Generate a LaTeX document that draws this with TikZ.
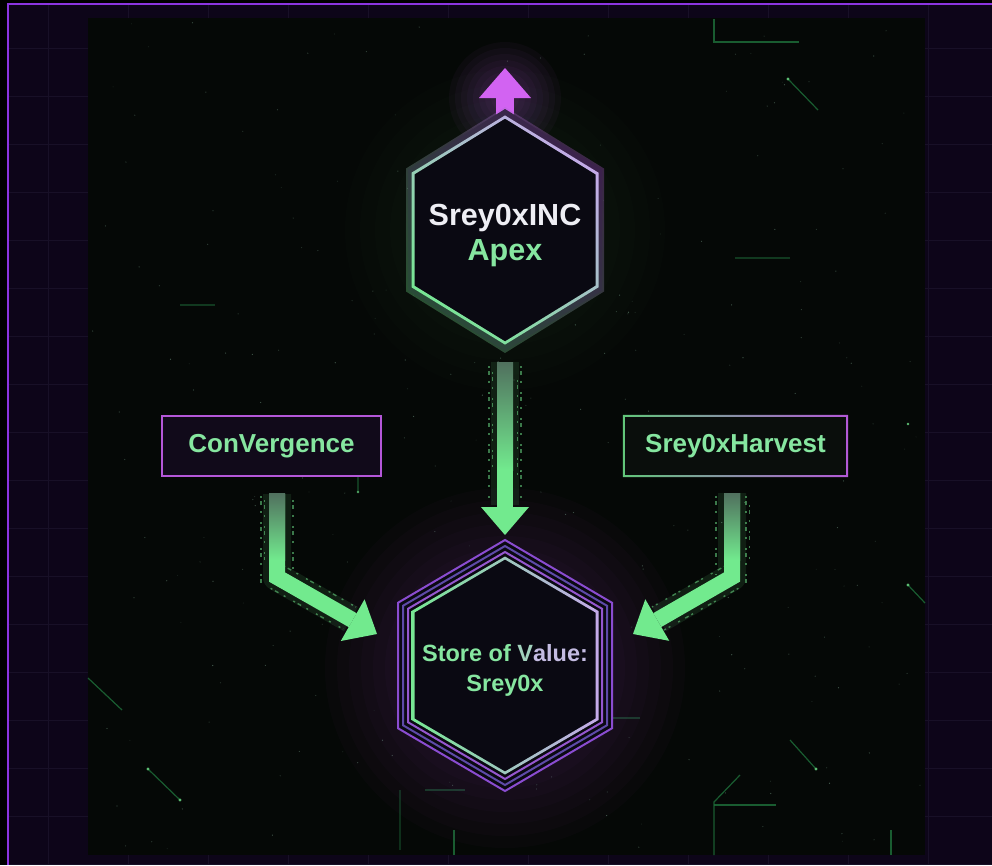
\documentclass[tikz,border=0pt]{standalone}
\usepackage{fontspec}
\setmainfont{Liberation Sans}
\usetikzlibrary{arrows.meta,calc}
\definecolor{outerbg}{HTML}{0D0519}
\definecolor{gridcol}{HTML}{181027}
\definecolor{framecol}{HTML}{8B35E0}
\definecolor{panel}{HTML}{050806}
\definecolor{hexfill}{HTML}{0A0912}
\definecolor{neongreen}{HTML}{72EA8E}
\definecolor{textgreen}{HTML}{86E6A0}
\definecolor{lavender}{HTML}{C9A6EE}
\definecolor{valuecol}{HTML}{C4BCE2}
\definecolor{paleline}{HTML}{E2ECF0}
\definecolor{apexwhite}{HTML}{EEEEF4}
\definecolor{violet}{HTML}{B457D8}
\definecolor{arrowpurple}{HTML}{D263F2}
\definecolor{dimgreen}{HTML}{50705E}
\definecolor{ringA}{HTML}{8A4CD0}
\definecolor{ringB}{HTML}{5E4AA8}
\definecolor{ringC}{HTML}{A25AD8}
\definecolor{deco}{HTML}{1D6B38}
\definecolor{dotcol}{HTML}{7FA890}
\definecolor{convfill}{HTML}{110A1A}
\definecolor{harvfill}{HTML}{0A0E0C}
\newcommand{\myhex}[4]{({#1},{#2-(#4)}) -- ({#1+(#3)},{#2-(#4)/2}) -- ({#1+(#3)},{#2+(#4)/2}) -- ({#1},{#2+(#4)}) -- ({#1-(#3)},{#2+(#4)/2}) -- ({#1-(#3)},{#2-(#4)/2}) -- cycle}
\begin{document}
\begin{tikzpicture}[x=1pt,y=-1pt,
  anchorbox/.style={inner sep=0pt, outer sep=0pt},
  labeltext/.style={align=center, inner sep=0pt},
  flowarrow/.style={draw=neongreen, line width=16pt, line join=miter, -{Triangle[length=28pt 0 0,width=48pt 0 0,line width=0pt 0 0]}},
  uparrow/.style={draw=arrowpurple, line width=18pt, -{Triangle[length=30pt 0 0,width=52pt 0 0,line width=0pt 0 0]}},
  glowline/.style={draw=neongreen, line width=28pt, opacity=0.10, line join=round, shorten >=30pt},
  rain/.style={draw=neongreen, line width=1.4pt, dash pattern=on 2pt off 3pt on 4pt off 6pt on 2pt off 9pt, opacity=0.5},
  decoline/.style={draw=deco, line width=1.2pt, opacity=0.85},
  boxtext/.style={font=\fontsize{26}{30}\selectfont\bfseries, text=textgreen},
]
\useasboundingbox (0,0) rectangle (992,865);
\fill[black] (0,0) rectangle (992,865);
\fill[outerbg] (8,4) rectangle (992,865);
\foreach \gx in {48,128,...,992} \draw[gridcol, line width=1pt] (\gx,5) -- (\gx,865);
\foreach \gy in {48,96,...,865} \draw[gridcol, line width=1pt] (9,\gy) -- (992,\gy);
\draw[framecol, line width=2pt] (8,865) -- (8,4) -- (992,4);
\fill[panel] (88,18) rectangle (925,855);
% sparkle dots
\pgfmathsetseed{1234}
\foreach \i in {1,...,260}{%
  \pgfmathsetmacro{\px}{90+833*rnd}\pgfmathsetmacro{\py}{20+833*rnd}\pgfmathsetmacro{\po}{0.12+0.45*rnd}%
  \fill[dotcol, opacity=\po] (\px,\py) circle (0.6pt);}
% decorative circuit lines
\draw[decoline] (714,19) -- (714,42) -- (799,42);
\draw[decoline] (788,79) -- (818,110);
\fill[neongreen!80!black] (788,79) circle (1.6pt);
\draw[decoline] (88,678) -- (122,710);
\draw[decoline] (148,769) -- (180,800);
\fill[neongreen!80!black] (148,769) circle (1.6pt) (180,800) circle (1.6pt);
\draw[decoline] (816,769) -- (790,740);
\fill[neongreen!80!black] (816,769) circle (1.6pt);
\draw[decoline] (740,775) -- (714,802) -- (714,855);
\draw[decoline] (714,805) -- (776,805);
\draw[decoline, opacity=0.4] (400,790) -- (400,850);
\draw[decoline, opacity=0.5] (425,790) -- (465,790);
\draw[decoline] (454,830) -- (454,855);
\draw[decoline] (891,830) -- (891,855);
\draw[decoline] (908,585) -- (925,603);
\fill[neongreen!80!black] (908,585) circle (1.6pt) (908,424) circle (1.4pt);
\draw[decoline, opacity=0.5] (358,462) -- (358,492);
\fill[neongreen!70!black] (358,492) circle (1.3pt);
\draw[decoline, opacity=0.5] (180,305) -- (215,305);
\draw[decoline, opacity=0.5] (735,258) -- (790,258);
\draw[decoline, opacity=0.5] (600,718) -- (640,718);
% glows (stacked translucent discs)
\foreach \r in {60,72,...,190} \fill[violet, opacity=0.022] (505,668) circle (\r pt);
\foreach \r in {14,20,...,56} \fill[arrowpurple, opacity=0.035] (505,98) circle (\r pt);
\foreach \r in {100,115,...,160} \fill[neongreen, opacity=0.012] (505,230) circle (\r pt);
% invisible anchor nodes for the hexagons
\node[anchorbox, minimum width=185pt, minimum height=226pt] (apex) at (505,230) {};
\node[anchorbox, minimum width=214pt, minimum height=251pt] (store) at (505,665.5) {};
% purple up arrow
\coordinate (apextip) at ([yshift=49pt]apex.north);
\draw[uparrow] ([yshift=-10pt]apex.north) -- (apextip);
% apex hexagon
\fill[hexfill] \myhex{505}{230}{97}{121};
\begin{scope}[even odd rule]
  \clip \myhex{505}{230}{99}{123} \myhex{505}{230}{93}{114};
  \shade[left color=neongreen, right color=violet, shading angle=135, opacity=0.3] (395,100) rectangle (615,360);
\end{scope}
\begin{scope}[even odd rule]
  \clip \myhex{505}{230}{93.5}{114.6} \myhex{505}{230}{90.5}{111.4};
  \shade[left color=neongreen, middle color=paleline, right color=lavender, shading angle=135] (395,100) rectangle (615,360);
\end{scope}
% store hexagon
\fill[hexfill] \myhex{505}{665.5}{107}{125.5};
\draw[ringA, line width=2pt] \myhex{505}{665.5}{107}{125.5};
\draw[ringB, line width=2pt] \myhex{505}{665.5}{102}{119.5};
\draw[ringC!80!ringB, line width=2pt] \myhex{505}{665.5}{97}{113.5};
\begin{scope}[even odd rule]
  \clip \myhex{505}{665.5}{93.5}{109} \myhex{505}{665.5}{90.5}{106};
  \shade[left color=neongreen, middle color=paleline, right color=lavender] (400,550) rectangle (610,780);
\end{scope}
% labels inside hexagons
\node[labeltext, font=\fontsize{30.5}{35}\selectfont\bfseries, text=apexwhite] (apexlabel) at (505,235.5) {Srey0xINC\\\textcolor{textgreen}{Apex}};
\node[labeltext, font=\fontsize{23.5}{30}\selectfont\bfseries, text=textgreen] (storelabel) at (505,670) {Store of \textcolor{textgreen!55!valuecol}{V}\textcolor{valuecol}{alue:}\\Srey0x};
% side boxes
\node[draw=violet, line width=2pt, fill=convfill, minimum width=219pt, minimum height=60pt, boxtext] (conv) at (271.5,446) {ConVergence};
\node[fill=harvfill, minimum width=223pt, minimum height=60pt, boxtext] (harv) at (735.5,446) {Srey0xHarvest};
\begin{scope}[even odd rule]
  \clip ([shift={(-1pt,-1pt)}]harv.south west) rectangle ([shift={(1pt,1pt)}]harv.north east)
        ([shift={(1pt,1pt)}]harv.south west) rectangle ([shift={(-1pt,-1pt)}]harv.north east);
  \shade[left color=neongreen!85!black, middle color=paleline!60!violet, right color=violet] ([shift={(-3pt,-3pt)}]harv.south west) rectangle ([shift={(3pt,3pt)}]harv.north east);
\end{scope}
% connector coordinates
\coordinate (cbend) at (277,577);
\coordinate (ctip) at (377,634);
\coordinate (hbend) at (732,577);
\coordinate (htip) at (633,634);
% glows under connectors
\draw[glowline] ([yshift=-19pt]apex.south) -- ([yshift=5pt]store.north);
\draw[glowline] ([xshift=5.5pt,yshift=-17pt]conv.south) -- (cbend) -- (ctip);
\draw[glowline] ([xshift=-3.5pt,yshift=-17pt]harv.south) -- (hbend) -- (htip);
% connectors
\draw[flowarrow] ([yshift=-19pt]apex.south) -- ([yshift=5pt]store.north);
\draw[flowarrow] ([xshift=5.5pt,yshift=-17pt]conv.south) -- (cbend) -- (ctip);
\draw[flowarrow] ([xshift=-3.5pt,yshift=-17pt]harv.south) -- (hbend) -- (htip);
% shaft gradients
\shade[top color=dimgreen, bottom color=neongreen] (497,362) rectangle (513,470);
\shade[top color=dimgreen, bottom color=neongreen] (269,493) rectangle (285,560);
\shade[top color=dimgreen, bottom color=neongreen] (724,493) rectangle (740,560);
% digital rain
\draw[rain] (489,366) -- (489,500) (492.5,372) -- (492.5,470) (521,366) -- (521,500) (517.5,380) -- (517.5,480);
\draw[rain] (261,496) -- (261,585) (264.5,500) -- (264.5,560) (293,500) -- (293,570);
\draw[rain] (270.6,588.3) -- (343,629) (283.4,565.7) -- (356,607);
\draw[rain] (716,496) -- (716,575) (746,496) -- (746,585) (749.5,505) -- (749.5,560);
\draw[rain] (738.4,588.3) -- (664,630) (725.6,565.7) -- (652,607);
\end{tikzpicture}
\end{document}
